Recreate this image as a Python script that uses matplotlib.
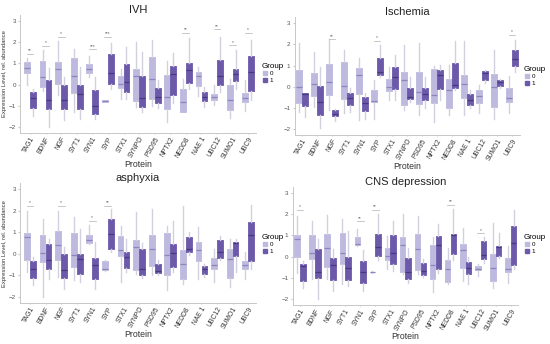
import matplotlib
matplotlib.use("Agg")
import matplotlib.pyplot as plt
from matplotlib.lines import Line2D

plt.rcParams["font.family"] = ["Liberation Sans", "DejaVu Sans"]

proteins = ["TAG1", "BDNF", "NGF", "SYT1", "SYN1", "SYP", "STX1", "SYNPO",
            "PSD95", "NPTX2", "NEDD8", "NAE 1", "UBC12", "SUMO1", "UBC9"]

# (whisker low, q1, median, q3, whisker high) per protein
ivh_0 = [(0.0, 0.56, 0.80, 1.08, 1.25), (-0.3, -0.12, 0.35, 1.12, 1.65),
         (-0.5, 0.05, 0.72, 1.07, 2.04), (-1.29, -0.39, 0.40, 1.26, 1.70),
         (0.36, 0.55, 0.75, 0.99, 1.33), (-0.84, -0.80, -0.77, -0.74, -0.71),
         (-0.66, -0.16, 0.05, 0.41, 0.75), (-1.06, -0.77, 0.42, 0.75, 2.0),
         (-1.0, -0.70, 0.28, 1.28, 2.08), (-1.75, -1.14, -0.59, 0.43, 1.09),
         (-1.3, -1.28, -0.83, -0.23, 0.28), (-0.56, -0.07, 0.42, 0.60, 0.84),
         (-0.95, -0.72, -0.60, -0.46, 0.0), (-1.55, -1.2, -0.72, 0.0, 0.28),
         (-1.22, -0.84, -0.62, -0.38, 0.2)]
ivh_1 = [(-1.5, -1.12, -0.63, -0.35, -0.19), (-2.0, -1.14, -0.72, 0.20, 0.80),
         (-1.68, -1.13, -0.74, 0.0, 0.36), (-1.6, -1.13, -0.42, -0.03, 0.85),
         (-1.63, -1.37, -1.02, -0.24, 0.36), (-0.19, 0.05, 0.57, 1.46, 1.97),
         (-0.66, -0.34, 0.10, 0.96, 1.75), (-1.27, -1.04, -0.64, 0.40, 1.56),
         (-1.1, -0.87, -0.59, -0.17, 0.23), (-0.86, -0.51, 0.51, 0.90, 1.5),
         (-0.2, 0.09, 0.70, 1.03, 2.19), (-1.06, -0.75, -0.59, -0.35, -0.12),
         (-0.35, -0.04, 0.39, 1.14, 2.24), (-0.2, 0.17, 0.48, 0.75, 1.61),
         (-0.72, -0.30, 0.58, 1.34, 2.1)]
ivh_sig = [("TAG1", 1.45, "**"), ("BDNF", 1.83, "*"), ("NGF", 2.26, "*"),
           ("SYN1", 1.68, "***"), ("SYP", 2.26, "***"), ("NEDD8", 2.45, "**"),
           ("UBC12", 2.6, "**"), ("SUMO1", 1.86, "*"), ("UBC9", 2.45, "*")]

isc_0 = [(-1.18, -0.79, -0.03, 0.79, 2.05), (-0.94, -0.44, 0.11, 0.66, 1.65),
         (-1.1, -0.39, 0.24, 1.06, 2.24), (-1.26, -0.57, 0.03, 1.15, 1.73),
         (-1.57, -0.35, 0.55, 0.87, 1.37), (-1.5, -0.74, -0.66, -0.13, 0.31),
         (-0.63, -0.19, -0.03, 0.39, 0.94), (-1.1, -0.87, 0.31, 0.71, 1.97),
         (-1.34, -0.83, -0.27, 0.71, 2.08), (-1.68, -0.79, -0.39, 0.82, 1.0),
         (-1.34, -1.02, -0.16, 0.39, 1.02), (-1.34, -0.52, 0.11, 0.54, 2.17),
         (-1.26, -0.75, -0.45, -0.13, 0.08), (-1.5, -0.94, -0.03, 0.61, 1.76),
         (-1.26, -0.72, -0.55, -0.06, 0.5)]
isc_1 = [(-1.45, -0.91, -0.36, -0.30, -0.28), (-1.97, -1.34, -0.71, 0.03, 0.94),
         (-1.6, -1.40, -1.28, -1.12, -1.05), (-1.18, -0.84, -0.53, -0.28, -0.05),
         (-1.5, -1.15, -0.76, -0.47, -0.31), (0.47, 0.58, 0.72, 1.35, 1.97),
         (-0.63, -0.11, 0.48, 0.95, 1.5), (-0.71, -0.6, -0.47, -0.08, 0.47),
         (-1.02, -0.62, -0.32, -0.07, 0.44), (-0.63, -0.11, 0.55, 0.80, 1.02),
         (-0.16, -0.04, 0.10, 1.13, 2.17), (-1.02, -0.84, -0.61, -0.34, -0.15),
         (0.19, 0.32, 0.63, 0.73, 0.8), (-0.05, 0.03, 0.24, 0.31, 0.39),
         (0.71, 0.97, 1.30, 1.73, 2.2)]
isc_sig = [("NGF", 2.26, "**"), ("SYP", 2.18, "*"), ("UBC9", 2.47, "*")]

asp_0 = [(-0.84, -0.29, 0.79, 0.98, 1.98), (-2.0, -0.37, 0.06, 0.9, 1.64),
         (-1.07, -0.29, 0.4, 1.07, 1.98), (-1.22, -0.6, -0.06, 0.99, 1.72),
         (0.48, 0.51, 0.63, 0.9, 1.33), (-0.78, -0.76, -0.68, -0.34, -0.3),
         (-1.3, -0.09, 0.17, 0.84, 1.3), (-0.91, -0.76, 0.33, 0.63, 1.95),
         (-0.99, -0.56, 0.22, 0.9, 2.07), (-1.69, -0.99, -0.06, 0.99, 1.3),
         (-1.38, -1.18, -0.45, 0.17, 2.21), (-1.15, -0.34, 0.17, 0.56, 1.25),
         (-1.3, -0.68, -0.53, -0.19, 0.25), (-1.53, -1.11, -0.25, 0.22, 0.71),
         (-1.15, -0.68, -0.5, -0.34, 0.1)]
asp_1 = [(-1.46, -1.11, -0.68, -0.34, -0.15), (-1.15, -0.71, -0.29, 0.48, 0.71),
         (-1.61, -1.11, -0.73, 0.0, 0.33), (-1.3, -0.91, -0.22, 0.0, 1.18),
         (-1.61, -1.15, -0.5, -0.19, 0.56), (0.09, 0.22, 0.91, 1.6, 2.1),
         (-0.84, -0.65, -0.14, 0.09, 0.71), (-1.1, -0.96, -0.68, 0.22, 0.5),
         (-0.99, -0.87, -0.8, -0.45, -0.3), (-0.84, -0.6, 0.06, 0.48, 1.52),
         (-0.05, 0.09, 0.25, 0.79, 1.02), (-1.06, -0.91, -0.68, -0.57, -0.45),
         (-0.3, -0.19, 0.09, 0.63, 0.82), (-0.84, -0.09, 0.53, 0.56, 0.71),
         (-0.68, -0.34, 0.9, 1.49, 2.26)]
asp_sig = [("TAG1", 2.24, "*"), ("NGF", 2.24, "*"), ("SYN1", 1.54, "*"),
           ("SYP", 2.24, "**")]

cns_0 = [(-0.75, -0.02, 0.81, 1.02, 1.9), (-1.06, -0.13, 0.19, 1.02, 1.67),
         (-1.06, -0.47, 0.39, 1.05, 1.94), (-1.3, -0.36, 0.19, 1.13, 1.75),
         (0.5, 0.53, 0.58, 0.92, 1.28), (-0.76, -0.74, -0.72, -0.70, -0.68),
         (-0.59, -0.16, 0.03, 0.42, 0.97), (-0.83, -0.72, 0.53, 0.92, 1.98),
         (-0.83, -0.63, 0.38, 1.05, 1.9), (-1.66, -1.03, -0.39, 0.55, 0.9),
         (-1.3, -1.19, -0.59, -0.17, 0.42), (-1.14, -0.52, 0.31, 0.58, 1.36),
         (-0.91, -0.64, -0.59, -0.44, -0.35), (-1.45, -1.14, -0.52, 0.11, 1.59),
         (-1.22, -0.72, -0.56, -0.05, 0.5)]
cns_1 = [(-1.45, -1.14, -0.44, -0.36, -0.2), (-1.97, -0.98, -0.7, 0.34, 0.81),
         (-1.61, -1.09, -0.39, -0.06, 0.34), (-1.38, -1.09, -0.52, -0.02, 1.2),
         (-1.61, -1.25, -0.72, -0.2, 0.31), (-0.16, 0.03, 0.47, 1.05, 1.98),
         (-0.67, -0.33, 0.16, 1.0, 1.67), (-1.25, -1.03, -0.7, -0.05, 0.42),
         (-0.95, -0.84, -0.69, -0.31, -0.1), (-0.75, -0.56, 0.53, 0.97, 1.52),
         (-0.16, 0.11, 1.0, 1.05, 2.22), (-1.3, -0.83, -0.52, -0.23, 0.0),
         (-0.28, -0.09, 0.06, 0.73, 0.92), (-0.05, 0.03, 0.47, 0.5, 1.13),
         (-0.59, -0.41, 0.66, 1.44, 2.19)]
cns_sig = [("TAG1", 2.2, "*"), ("SYN1", 1.65, "**"), ("SYP", 2.2, "**"),
           ("NEDD8", 2.43, "**"), ("UBC12", 1.1, "*")]

light = "#bdb9df"
dark = "#6c59aa"
light_med = "#8c86bf"
dark_med = "#46397f"
whisker_c = "#d2d0de"
spine_c = "#c8c8c8"

W, H = 550, 344
fig = plt.figure(figsize=(W / 100, H / 100), dpi=100)

# title, data, sig, (left, top, right, bottom) px, xlim left, legend px,
# ylabel, "Protein" top px
panels = [
    ("IVH", ivh_0, ivh_1, ivh_sig, (20, 15, 256, 133), -0.64, (259, 60), True, 160),
    ("Ischemia", isc_0, isc_1, isc_sig, (294.5, 17.4, 519.5, 135), -0.5, (521, 63), False, 162),
    ("asphyxia", asp_0, asp_1, asp_sig, (20, 183.3, 256, 303), -0.64, (259, 231), True, 330),
    ("CNS depression", cns_0, cns_1, cns_sig, (292.5, 186.7, 518.3, 305.3), -0.5, (521, 231), False, 332),
]


def stats(rows):
    return [dict(whislo=r[0], q1=r[1], med=r[2], q3=r[3], whishi=r[4], fliers=[])
            for r in rows]


for title, g0, g1, sig, (l, t, r, b), x0, (lx, ly), ylab, py in panels:
    ax = fig.add_axes([l / W, 1 - b / H, (r - l) / W, (b - t) / H])
    pos = list(range(len(proteins)))
    for rows, off, fc, mc in [(g0, -0.19, light, light_med), (g1, 0.19, dark, dark_med)]:
        ax.bxp(stats(rows), positions=[p + off for p in pos], widths=0.37,
               patch_artist=True, showcaps=False, showfliers=False,
               boxprops=dict(facecolor=fc, edgecolor=fc, linewidth=0.6),
               medianprops=dict(color=mc, linewidth=0.9),
               whiskerprops=dict(color=whisker_c, linewidth=1.0))
    for name, y, label in sig:
        i = proteins.index(name)
        ax.plot([i - 0.22, i + 0.22], [y, y], color="#b0b0b0", lw=0.5)
        ax.text(i, y + 0.02, label, ha="center", va="bottom", fontsize=3.5,
                color="#666666")
    ax.set_xlim(x0, 14.5)
    ax.set_ylim(-2.28, 3.28)
    ax.set_yticks([-2, -1, 0, 1, 2, 3])
    ax.set_xticks(pos)
    ax.set_xticklabels(proteins, rotation=60, ha="right", rotation_mode="anchor",
                       fontsize=4.9, color="#333333")
    ax.tick_params(axis="y", labelsize=4.5, labelcolor="#555555", length=1.5,
                   color=spine_c, pad=1.5)
    ax.tick_params(axis="x", length=1, color=spine_c, pad=0.8)
    for s in ["top", "right"]:
        ax.spines[s].set_visible(False)
    for s in ["left", "bottom"]:
        ax.spines[s].set_color(spine_c)
        ax.spines[s].set_linewidth(0.7)
    ax.set_title(title, fontsize=8, pad=1.5, color="#222222")
    ax.set_xlabel("Protein", fontsize=6.3, color="#333333")
    ax.xaxis.set_label_coords(0.5, (b - py) / (b - t))
    if ylab:
        ax.set_ylabel("Expression Level, rel. abundance", fontsize=4.2,
                      labelpad=1.5, color="#333333")
    handles = [Line2D([], [], marker="s", ls="", color=light, markersize=2.6),
               Line2D([], [], marker="s", ls="", color=dark, markersize=2.6)]
    ax.legend(handles, ["0", "1"], title="Group", loc="upper left",
              bbox_to_anchor=(lx / W, 1 - ly / H), bbox_transform=fig.transFigure,
              frameon=False, fontsize=4.5, title_fontsize=5.8, handlelength=0.8,
              handletextpad=0.4, labelspacing=0.15, borderpad=0,
              alignment="left")

fig.savefig("out.png", dpi=100)
